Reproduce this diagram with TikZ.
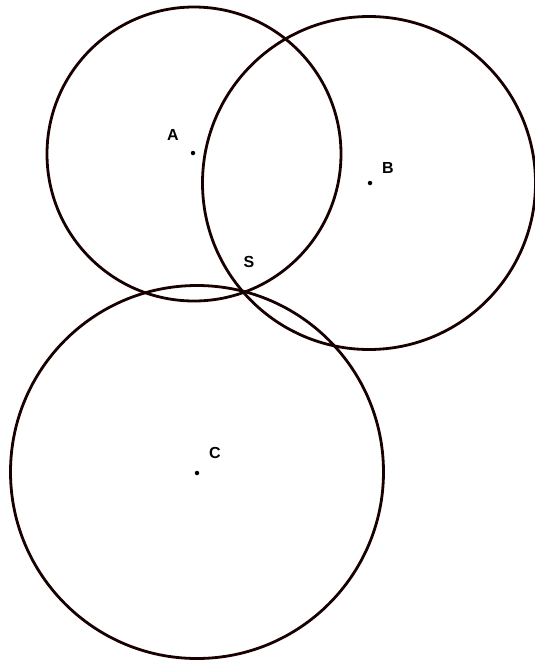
\documentclass[tikz,border=0pt]{standalone}
\usepackage{fontspec}
\setmainfont{Liberation Sans}
\begin{document}
\begin{tikzpicture}[x=1pt,y=-1pt,
  ring/.style={circle, draw=black!90!red, line width=2.8pt, inner sep=0pt},
  pt/.style={circle, fill=black, inner sep=0pt, minimum size=4.5pt},
  lbl/.style={inner sep=0pt, font=\fontsize{16}{16}\selectfont\bfseries}]
\useasboundingbox (0,0) rectangle (535,662);
\node[ring, minimum size=294pt] (circA) at (194,154) {};
\node[ring, minimum size=333pt] (circB) at (369,183) {};
\node[ring, minimum size=373pt] (circC) at (197,472) {};
\node[pt] (dA) at (193,153) {};
\node[pt] (dB) at (370,183) {};
\node[pt] (dC) at (197,473) {};
\node[lbl] (lA) at (173,135) {A};
\node[lbl] (lB) at (388,168) {B};
\node[lbl] (lS) at (249,262) {S};
\node[lbl] (lC) at (215,453) {C};
\end{tikzpicture}
\end{document}
